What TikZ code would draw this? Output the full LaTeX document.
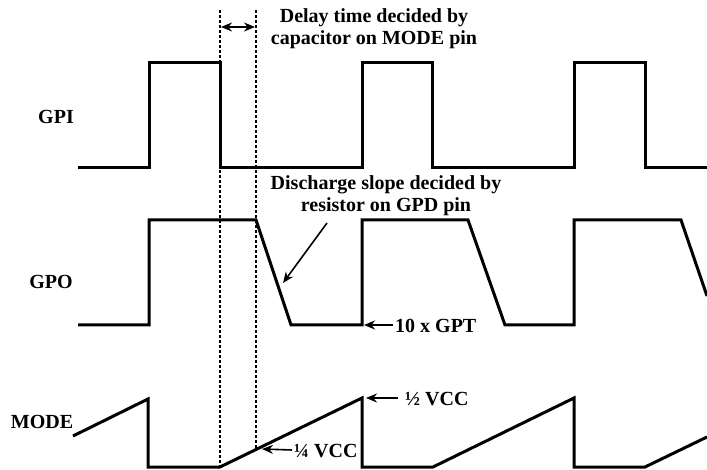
\documentclass[tikz,border=0pt]{standalone}
\usepackage{fontspec}
\setmainfont{Liberation Serif}
\usetikzlibrary{arrows.meta}
\begin{document}
\begin{tikzpicture}[x=1pt,y=-1pt,
  wave/.style={line width=3pt,line join=miter,black},
  guide/.style={line width=1.5pt,dash pattern=on 3pt off 2pt,black},
  tip/.style={Stealth[length=11pt,width=9pt]},
  callout/.style={line width=1.6pt,-{Stealth[length=11pt,width=9pt]}},
  lbl/.style={font=\fontsize{20}{22}\selectfont\bfseries,inner sep=0pt,align=center}]
\useasboundingbox (0,0) rectangle (707,470);
% waveforms
\draw[wave] (78,168) -- (149,168) -- (149,63) -- (220,63) -- (220,168) -- (362,168) -- (362,63) -- (432,63) -- (432,168) -- (574,168) -- (574,63) -- (645,63) -- (645,168) -- (707,168);
\draw[wave] (78,325) -- (149,325) -- (149,220) -- (256,220) -- (291,325) -- (362,325) -- (362,220) -- (468,220) -- (505,325) -- (574,325) -- (574,220) -- (681,220) -- (707,296);
\draw[wave] (73,436) -- (148,399) -- (148,467) -- (220,467) -- (362,398) -- (362,467) -- (433,467) -- (574,398) -- (574,467) -- (645,467) -- (707,437);
% guides
\coordinate (d1t) at (220,10);
\coordinate (d1b) at (220,468);
\coordinate (d2t) at (256,10);
\coordinate (d2b) at (256,449);
\draw[guide] (d1t) -- (d1b);
\draw[guide] (d2t) -- (d2b);
\coordinate (da) at (221,27);
\coordinate (db) at (255,27);
\draw[line width=1.6pt,{Stealth[length=11pt,width=9pt]}-{Stealth[length=11pt,width=9pt]}] (da) -- (db);
% labels
\node[lbl] (gpi) at (56,117) {GPI};
\node[lbl] (gpo) at (51,282) {GPO};
\node[lbl] (mode) at (42,422) {MODE};
\node[lbl] (delay) at (374,29) {Delay time decided by\\capacitor on MODE pin};
\node[lbl] (slope) at (386,196) {Discharge slope decided by\\resistor on GPD pin};
\node[lbl,anchor=west] (gpt) at (395,326) {10 x GPT};
\node[lbl,anchor=west] (half) at (405,399) {½ VCC};
\node[lbl,anchor=west] (quarter) at (294,451) {¼ VCC};
% callouts
\coordinate (slopetip) at (283,283);
\coordinate (slopestart) at (327,223);
\draw[callout] (slopestart) -- (slopetip);
\coordinate (gptstart) at (393,325);
\coordinate (gpttip) at (364,325);
\draw[callout] (gptstart) -- (gpttip);
\coordinate (halfstart) at (398,398);
\coordinate (halftip) at (366,398);
\draw[callout] (halfstart) -- (halftip);
\coordinate (quarterstart) at (292,450);
\coordinate (quartertip) at (262,449);
\draw[callout] (quarterstart) -- (quartertip);
\end{tikzpicture}
\end{document}
